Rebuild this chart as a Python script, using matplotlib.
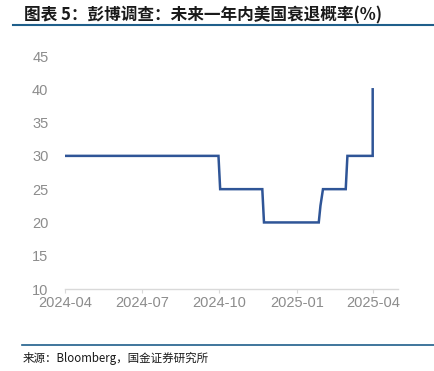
import matplotlib
matplotlib.use('Agg')
import matplotlib.pyplot as plt
import matplotlib.dates as mdates
import numpy as np
import pandas as pd
from matplotlib.lines import Line2D

plt.rcParams['font.family'] = ['Noto Sans CJK SC', 'DejaVu Sans']

# Bloomberg survey: probability of US recession within the next year (%)
dates = ['2024-04-01', '2024-09-30', '2024-10-02', '2024-11-21', '2024-11-23',
         '2025-01-27', '2025-01-29', '2025-02-01', '2025-02-28', '2025-03-02',
         '2025-04-01', '2025-04-01']
values = [30, 30, 25, 25, 20, 20, 22.5, 25, 25, 30, 30, 40]
tick_dates = ['2024-04-01', '2024-07-01', '2024-10-01', '2025-01-01', '2025-04-01']
tick_labels = ['2024-04', '2024-07', '2024-10', '2025-01', '2025-04']
y_ticks = [10, 15, 20, 25, 30, 35, 40, 45]

title = '图表 5：彭博调查：未来一年内美国衰退概率(%)'
source = '来源：Bloomberg，国金证券研究所'

fig = plt.figure(figsize=(4.34, 3.71), dpi=100)
ax = fig.add_axes([0.150, 0.221, 0.767, 0.628])

x = pd.to_datetime(dates)
ax.plot(x, values, color='#2f5597', lw=1.8, solid_joinstyle='miter')

ax.set_xlim(pd.Timestamp('2024-04-01'), pd.Timestamp('2025-05-01'))
ax.set_ylim(10, 45)
ax.set_yticks(y_ticks)
ax.set_xticks(pd.to_datetime(tick_dates))
ax.set_xticklabels(tick_labels)

for s in ['top', 'right', 'left']:
    ax.spines[s].set_visible(False)
ax.spines['bottom'].set_color('#d9d9d9')
ax.spines['bottom'].set_linewidth(1.0)

ax.tick_params(axis='y', length=0, pad=12, labelcolor='#8c8c8c', labelsize=10.5)
ax.tick_params(axis='x', length=3, color='#d9d9d9', pad=2, labelcolor='#8c8c8c', labelsize=10.5)
for lab in ax.get_xticklabels() + ax.get_yticklabels():
    lab.set_fontfamily(['Liberation Sans', 'DejaVu Sans'])

fig.text(0.055, 0.958, title, fontsize=12, fontweight='bold', color='#1a1a1a',
         va='center', ha='left', style='italic')
fig.add_artist(Line2D([0.030, 1.0], [0.933, 0.933], color='#1f5f8b', lw=1.5))
fig.add_artist(Line2D([0.051, 1.0], [0.070, 0.070], color='#1f5f8b', lw=1.2))
fig.text(0.051, 0.035, source, fontsize=8.3, color='#1a1a1a', va='center', ha='left')

fig.savefig('out.png', dpi=100)
